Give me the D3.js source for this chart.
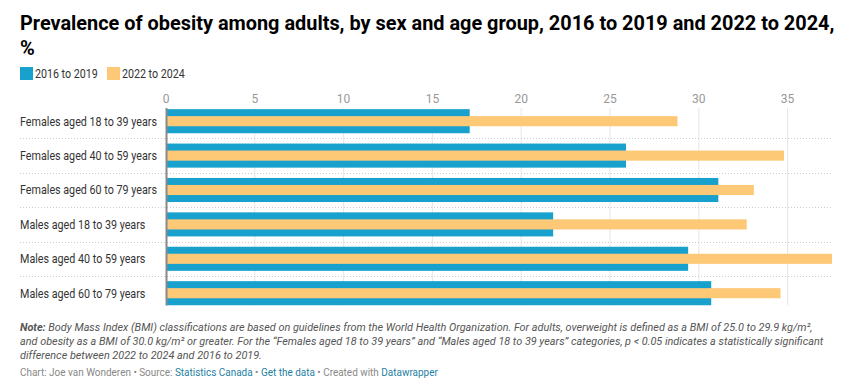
<!DOCTYPE html>
<meta charset="utf-8">
<style>
body { margin: 0; background: #fff; font-family: Roboto, sans-serif; }
.title { font-weight: 700; font-size: 20px; fill: #000; }
.legend text { font-size: 12px; fill: #333; }
.axis text { font-size: 12px; fill: #999; }
.label { font-size: 12.5px; fill: #333; }
.note { font-size: 11.5px; font-style: italic; fill: #555; }
.footer { font-size: 11px; fill: #888; }
.footer .link { fill: #1d81a2; }
</style>
<svg width="857" height="386"></svg>
<script src="https://d3js.org/d3.v7.min.js"></script>
<script>

var groups = ["Females aged 18 to 39 years", "Females aged 40 to 59 years", "Females aged 60 to 79 years",
              "Males aged 18 to 39 years", "Males aged 40 to 59 years", "Males aged 60 to 79 years"];
var series = ["2016 to 2019", "2022 to 2024"];
var v2016 = [17.1, 25.9, 31.1, 21.8, 29.4, 30.7];
var v2022 = [28.8, 34.8, 33.1, 32.7, 37.5, 34.6];
var ticks = [0, 5, 10, 15, 20, 25, 30, 35];
var colors = ["#18a1cd", "#fec977"];

// the source font renders narrower than Roboto here, so squeeze text horizontally
// around its own left edge
function squeeze(sel, k) {
  sel.each(function() {
    var x0 = +d3.select(this).attr("x") || 0;
    d3.select(this).attr("transform",
      "translate(" + x0 + ",0) scale(" + k + ",1) translate(" + (-x0) + ",0)");
  });
}

var svg = d3.select("svg"),
    margin = {top: 104, left: 166, right: 25},
    width = 857 - margin.left - margin.right,
    rowH = 34.4,
    height = rowH * groups.length;

svg.append("text").attr("class", "title").attr("x", 20).attr("y", 30)
    .text("Prevalence of obesity among adults, by sex and age group, 2016 to 2019 and 2022 to 2024,")
    .call(squeeze, 0.995);
svg.append("text").attr("class", "title").attr("x", 20).attr("y", 55).text("%");

// legend
var lx = [20, 107];
var legend = svg.append("g").attr("class", "legend");
series.forEach(function(s, i) {
  legend.append("rect").attr("x", lx[i]).attr("y", 67).attr("width", 13).attr("height", 13).attr("fill", colors[i]);
  legend.append("text").attr("x", lx[i] + 15).attr("y", 78).text(s).call(squeeze, 0.89);
});

var x = d3.scaleLinear().domain([0, 37.5]).range([0, width]);
var y = d3.scaleBand().domain(groups).range([0, height]).paddingInner(0.3).paddingOuter(0.15);

var g = svg.append("g").attr("transform", "translate(" + margin.left + "," + margin.top + ")");

var gTop = 4, gBottom = height - 5;

// gridlines
g.selectAll(".grid").data(ticks.slice(1)).enter().append("line")
    .attr("x1", function(d) { return x(d); }).attr("x2", function(d) { return x(d); })
    .attr("y1", gTop).attr("y2", gBottom)
    .attr("stroke", "#e6e6e6").attr("stroke-width", 1);

// tick labels
g.append("g").attr("class", "axis").selectAll("text").data(ticks).enter().append("text")
    .attr("x", function(d) { return x(d); }).attr("y", -1)
    .attr("text-anchor", "middle").text(function(d) { return d; });

// row separators
g.selectAll(".sep").data(groups.slice(1)).enter().append("line")
    .attr("x1", 20 - margin.left).attr("x2", width)
    .attr("y1", function(d) { return Math.round(y(d) - (y.step() - y.bandwidth()) / 2) + 0.5; })
    .attr("y2", function(d) { return Math.round(y(d) - (y.step() - y.bandwidth()) / 2) + 0.5; })
    .attr("stroke", "#ccc").attr("stroke-dasharray", "1,2");

// bars: wide blue behind, narrow orange on top
g.selectAll(".b1").data(groups).enter().append("rect")
    .attr("x", 0).attr("y", function(d) { return y(d); })
    .attr("width", function(d, i) { return x(v2016[i]); })
    .attr("height", y.bandwidth()).attr("fill", colors[0]);

g.selectAll(".b2").data(groups).enter().append("rect")
    .attr("x", 0).attr("y", function(d) { return y(d) + y.bandwidth() * 0.29; })
    .attr("width", function(d, i) { return x(v2022[i]); })
    .attr("height", y.bandwidth() * 0.42).attr("fill", colors[1]);

// zero line
g.append("line").attr("x1", 0.5).attr("x2", 0.5).attr("y1", gTop).attr("y2", gBottom)
    .attr("stroke", "#888").attr("stroke-width", 2);

// row labels
g.selectAll(".label").data(groups).enter().append("text")
    .attr("class", "label").attr("x", 20 - margin.left)
    .attr("y", function(d) { return y(d) + y.bandwidth() / 2; })
    .attr("dy", "0.35em").text(function(d) { return d; })
    .call(squeeze, 0.86);

// notes
var notes = [
  [["Note:", true], [" Body Mass Index (BMI) classifications are based on guidelines from the World Health Organization. For adults, overweight is defined as a BMI of 25.0 to 29.9 kg/m²,", false]],
  [["and obesity as a BMI of 30.0 kg/m² or greater. For the “Females aged 18 to 39 years” and “Males aged 18 to 39 years” categories, p < 0.05 indicates a statistically significant", false]],
  [["difference between 2022 to 2024 and 2016 to 2019.", false]]
];
notes.forEach(function(line, i) {
  var t = svg.append("text").attr("class", "note").attr("x", 20).attr("y", 331 + i * 14);
  line.forEach(function(p) {
    t.append("tspan").attr("font-weight", p[1] ? 700 : null).text(p[0]);
  });
  t.call(squeeze, 0.945);
});

var foot = svg.append("text").attr("class", "footer").attr("x", 20).attr("y", 376);
[["Chart: Joe van Wonderen • Source: ", false], ["Statistics Canada", true], [" • ", false],
 ["Get the data", true], [" • Created with ", false], ["Datawrapper", true]].forEach(function(p) {
  foot.append("tspan").attr("class", p[1] ? "link" : null).text(p[0]);
});
foot.call(squeeze, 0.905);

</script>
